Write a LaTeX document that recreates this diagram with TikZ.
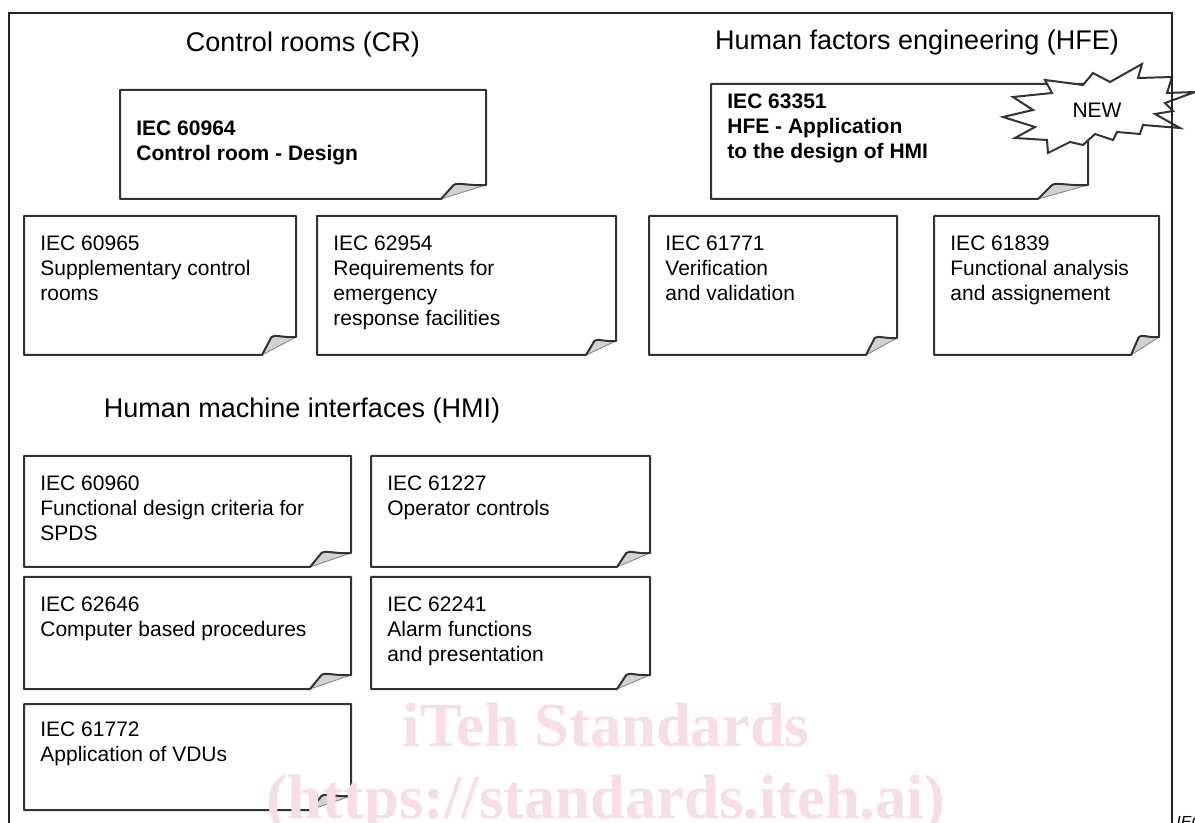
\documentclass[tikz,border=0pt]{standalone}
\usepackage{fontspec}
\setmainfont{Liberation Sans}
\newfontfamily\wmfont{Liberation Serif}
\definecolor{edge}{HTML}{333333}
\definecolor{foldgray}{HTML}{D2D2D2}
\definecolor{wmpink}{HTML}{F8DCE6}
\tikzset{
  notedraw/.style={draw=edge, line width=1pt, line join=round, fill=white},
  foldfill/.style={fill=foldgray, draw=gray, line width=0.4pt, line join=round},
  notetxt/.style={anchor=north west, inner sep=0pt, align=left, font=\fontsize{10.5}{12.5}\selectfont},
  title/.style={anchor=base, inner sep=0pt, font=\fontsize{13.5}{16}\selectfont},
  wm/.style={anchor=base, inner sep=0pt, text=wmpink, font=\wmfont\bfseries\fontsize{31.3}{36}\selectfont},
  starstyle/.style={draw=edge, line width=1pt, line join=miter, fill=white},
  framestyle/.style={draw=black!85, line width=1.2pt}
}
% #1 name, #2 x1, #3 y1, #4 x2, #5 y2, #6 curl width, #7 curl height, #8 text offset, #9 text
\newcommand\notebox[9]{%
  \filldraw[foldfill] ({#4-#6},#5) -- ({#4-0.72*#6},{#5-#7})
     .. controls ({#4-0.62*#6},{#5-#7-3}) and ({#4-0.4*#6},{#5-#7+1}) .. (#4,{#5-#7}) -- cycle;
  \draw[notedraw] (#2,#3) -- (#4,#3) -- (#4,{#5-#7})
     .. controls ({#4-0.4*#6},{#5-#7+1}) and ({#4-0.62*#6},{#5-#7-3}) .. ({#4-0.72*#6},{#5-#7})
     -- ({#4-#6},#5) -- (#2,#5) -- cycle;
  \node[notetxt] (#1) at ({#2+16},{#3+#8}) {\strut #9};
}
\begin{document}
\begin{tikzpicture}[x=0.5pt,y=-0.5pt]
\useasboundingbox (0,0) rectangle (1195,823);
\clip (0,0) rectangle (1195,823);

% titles
\node[title] (tcr) at (303,52) {Control rooms (CR)};
\node[title] (thfe) at (917,50) {Human factors engineering (HFE)};
\node[title] (thmi) at (302,418) {Human machine interfaces (HMI)};

% control rooms
\notebox{n60964}{120}{90}{486}{199}{45}{14}{27.5}{\bfseries IEC 60964\\\bfseries Control room - Design}
\notebox{n60965}{24}{216}{296}{355}{34}{18}{16.5}{IEC 60965\\Supplementary control\\rooms}
\notebox{n62954}{317}{216}{616}{355}{30}{14}{16.5}{IEC 62954\\Requirements for\\emergency\\response facilities}

% HFE
\notebox{n63351}{711}{84}{1088}{199}{50}{14}{7}{\bfseries IEC 63351\\\bfseries HFE - Application\\\bfseries to the design of HMI}
\notebox{n61771}{649}{216}{897}{355}{31}{17}{16.5}{IEC 61771\\Verification\\and validation}
\notebox{n61839}{934}{216}{1159}{355}{28}{18}{16.5}{IEC 61839\\Functional analysis\\and assignement}

% NEW star
\draw[starstyle] (1003,117) -- (1033,110) -- (1013,97) -- (1052,93) -- (1045,80) -- (1083,85)
  -- (1093,73) -- (1110,82) -- (1142,64) -- (1138,78) -- (1172,77) -- (1167,93) -- (1195,92)
  -- (1165,103) -- (1173,111) -- (1155,114) -- (1180,128) -- (1143,125) -- (1140,134)
  -- (1117,132) -- (1113,140) -- (1095,134) -- (1083,145) -- (1070,142) -- (1048,153)
  -- (1047,140) -- (1015,138) -- (1035,127) -- cycle;
\node[anchor=base, inner sep=0pt, font=\fontsize{10.5}{12.5}\selectfont] (new) at (1097,118) {NEW};

% HMI
\notebox{n60960}{24}{456}{351}{567}{41}{14}{16.5}{IEC 60960\\Functional design criteria for\\SPDS}
\notebox{n61227}{371}{456}{650}{567}{33}{14}{16.5}{IEC 61227\\Operator controls}
\notebox{n62646}{24}{577}{351}{689}{41}{14}{17}{IEC 62646\\Computer based procedures}
\notebox{n62241}{371}{577}{650}{689}{33}{14}{17}{IEC 62241\\Alarm functions\\and presentation}
\notebox{n61772}{24}{704}{351}{810}{41}{14}{15}{IEC 61772\\Application of VDUs}

% frame
\draw[framestyle] (9,13) rectangle (1172,900);
\node[anchor=north west, inner sep=0pt, font=\itshape\fontsize{8}{9}\selectfont] (iec) at (1176,816) {IEC};

% watermark
\node[wm] (wm1) at (606,747) {iTeh Standards};
\node[wm] (wm2) at (606,818) {(https://standards.iteh.ai)};
\end{tikzpicture}
\end{document}
